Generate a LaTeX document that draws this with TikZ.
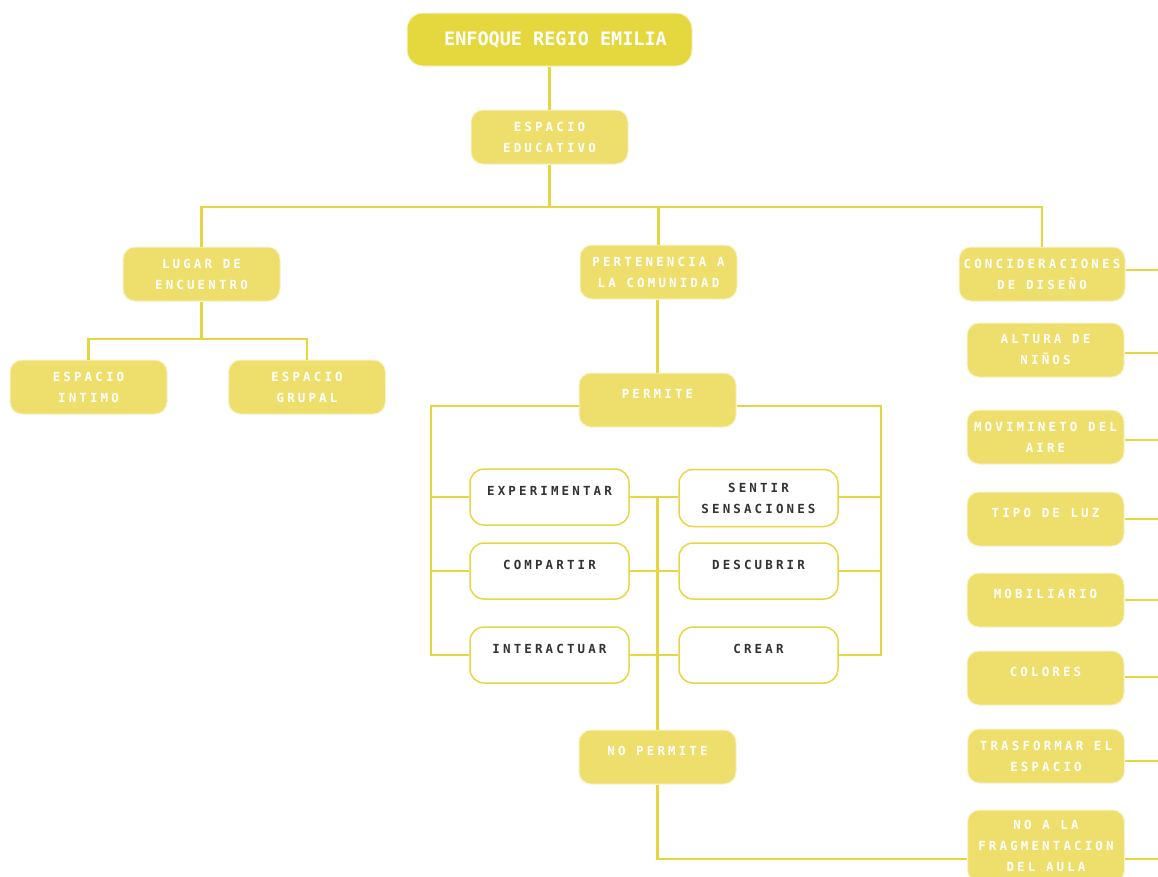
\documentclass[tikz,border=0pt]{standalone}
\usepackage{fontspec}
\newfontfamily\boxfont[LetterSpace=25]{DejaVu Sans Mono}
\newfontfamily\titlefont{DejaVu Sans Mono}
\usetikzlibrary{positioning,calc}
\definecolor{titleyellow}{HTML}{E4D83E}
\definecolor{boxyellow}{HTML}{EEDE6B}
\definecolor{lineyellow}{HTML}{E6D742}
\definecolor{darktext}{HTML}{333333}

\begin{document}
\begin{tikzpicture}[x=1pt,y=-1pt,
    ybox/.style={draw=white!65!boxyellow,fill=boxyellow,line width=1pt,rounded corners=12pt,
        minimum width=157pt,minimum height=54pt,inner sep=0pt,align=center,text=white,
        font=\boxfont\bfseries\fontsize{12.5}{21}\selectfont},
    wbox/.style={draw=lineyellow,fill=white,line width=1.5pt,rounded corners=14pt,
        minimum width=159pt,minimum height=56pt,inner sep=0pt,align=center,text=darktext,
        font=\boxfont\bfseries\fontsize{12.5}{21}\selectfont},
    oneline/.style={text depth=12pt},
    conn/.style={draw=lineyellow,line width=2.4pt}]
        \useasboundingbox (0,0) rectangle (1158,876);

        % Top of the tree
        \node[ybox,fill=titleyellow,draw=white!70!titleyellow,minimum width=285pt,minimum height=53pt,rounded corners=16pt,
              font=\titlefont\bfseries\fontsize{18.5}{22}\selectfont] (title) at (549.5,39.5) {\hspace*{12pt}ENFOQUE REGIO EMILIA};
        \node[ybox] (educ) at (549.5,137) {ESPACIO\\EDUCATIVO};

        % Second level
        \node[ybox] (lugar) at (201.5,274) {LUGAR DE\\ENCUENTRO};
        \node[ybox] (pert) at (658.5,272) {PERTENENCIA A\\LA COMUNIDAD};
        \node[ybox,minimum width=166pt] (conc) at (1042,274) {CONCIDERACIONES\\DE DISEÑO};

        % Left branch
        \node[ybox] (intimo) at (88.5,387) {ESPACIO\\INTIMO};
        \node[ybox] (grupal) at (307,387) {ESPACIO\\GRUPAL};

        % Middle branch
        \node[ybox,oneline] (permite) at (657.5,400) {PERMITE};
        \node[wbox,oneline] (exper) at (549.5,497) {EXPERIMENTAR};
        \node[wbox,oneline] (compartir) at (549.5,571) {COMPARTIR};
        \node[wbox,oneline] (interact) at (549.5,655) {INTERACTUAR};
        \node[wbox,minimum height=57pt] (sentir) at (758.5,498) {SENTIR\\SENSACIONES};
        \node[wbox,oneline] (descubrir) at (758.5,571) {DESCUBRIR};
        \node[wbox,oneline] (crear) at (758.5,655) {CREAR};
        \node[ybox,oneline] (nopermite) at (657.5,757) {NO PERMITE};

        % Right branch
        \node[ybox] (altura) at (1045.5,350) {ALTURA DE\\NIÑOS};
        \node[ybox] (aire) at (1045.5,437) {MOVIMINETO DEL\\AIRE};
        \node[ybox,oneline] (luz) at (1045.5,519) {TIPO DE LUZ};
        \node[ybox,oneline] (mobil) at (1045.5,600) {MOBILIARIO};
        \node[ybox,oneline] (colores) at (1045.5,678) {COLORES};
        \node[ybox] (trans) at (1046,756) {TRASFORMAR EL\\ESPACIO};
        \node[ybox,minimum height=72pt] (frag) at (1046,846) {NO A LA\\FRAGMENTACION\\DEL AULA};

        % Rails
        \coordinate (bar) at (547,207);
        \coordinate (lbar) at (197,339);
        \coordinate (lrail) at (431,655);
        \coordinate (rrail) at (881,655);

        % Tree connectors
        \draw[conn] (title.south) -- (educ.north);
        \draw[conn] (educ.south) -- (educ.south |- bar);
        \draw[conn] (lugar.north) |- (bar) -| (conc.north);
        \draw[conn] (pert.north) -- (pert.north |- bar);
        \draw[conn] (lugar.south) -- (lugar.south |- lbar);
        \draw[conn] (intimo.north) |- (lbar) -| (grupal.north);
        \draw[conn] (permite.north) -- (permite.north |- pert.south);

        % Permite rails
        \draw[conn] ([yshift=-6pt]permite.west) -| (lrail) -- (interact.west);
        \draw[conn] ([yshift=-6pt]permite.east) -| (rrail) -- (crear.east);
        \draw[conn] (exper.west) -- (exper.west -| lrail);
        \draw[conn] (compartir.west) -- (compartir.west -| lrail);
        \draw[conn] (exper.east -| sentir.east) -- (exper.east -| rrail);
        \draw[conn] (descubrir.east) -- (descubrir.east -| rrail);

        % Middle spine
        \draw[conn] (exper.east) -- (exper.east -| sentir.west);
        \draw[conn] (compartir.east) -- (descubrir.west);
        \draw[conn] (interact.east) -- (crear.west);
        \draw[conn] (nopermite.north) -- (nopermite.north |- exper.east);
        \draw[conn] (nopermite.south) |- ([yshift=-13pt]frag.west);

        % Right stubs
        \foreach \n/\s in {conc/4,altura/-3,aire/-3,luz/0,mobil/0,colores/1,trans/-5,frag/-13}
            \draw[conn] ([yshift=\s pt]\n.east) -- ++(40,0);
\end{tikzpicture}
\end{document}
